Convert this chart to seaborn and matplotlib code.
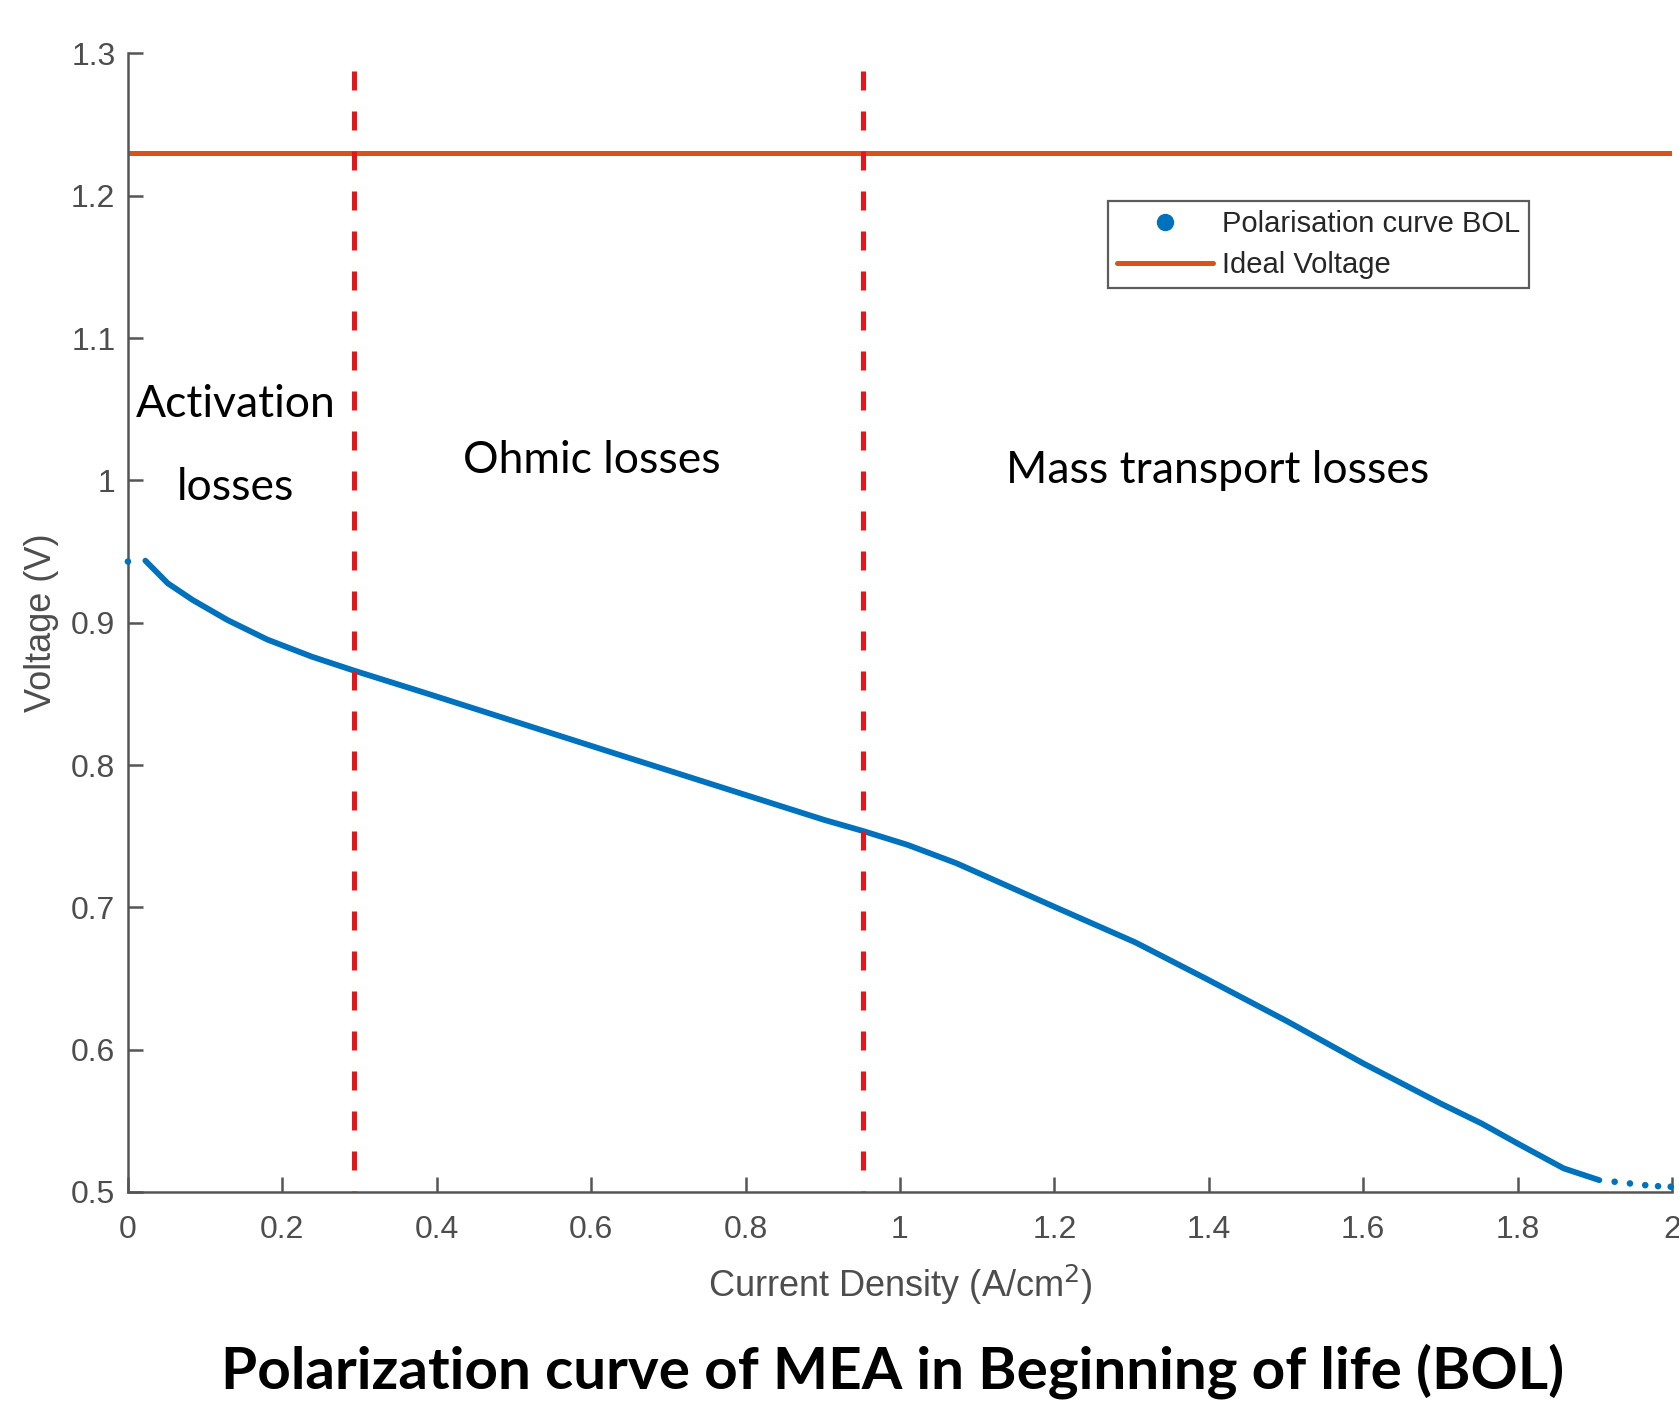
import numpy as np
import pandas as pd
import matplotlib
matplotlib.use("Agg")
import matplotlib.pyplot as plt
from matplotlib.lines import Line2D
from matplotlib.ticker import FuncFormatter
import seaborn as sns

# values
current_density = [0.0226, 0.0516, 0.0838, 0.1289, 0.1804, 0.2384, 0.2932, 0.3867,
                   0.5156, 0.6444, 0.7733, 0.9022, 0.9525, 1.0105, 1.0732, 1.2,
                   1.3045, 1.4, 1.5028, 1.6, 1.701, 1.7539, 1.8, 1.8597, 1.906]
voltage = [0.9436, 0.9277, 0.9160, 0.9019, 0.8882, 0.8761, 0.8663, 0.8504,
           0.8281, 0.8058, 0.7836, 0.7614, 0.7536, 0.7438, 0.7310, 0.7004,
           0.6755, 0.6489, 0.6196, 0.5904, 0.5620, 0.5480, 0.5341, 0.5166, 0.5083]
# sparse dots at both ends of the measured curve
dots_current = [0.0, 1.9258, 1.9456, 1.9654, 1.982, 1.9984]
dots_voltage = [0.943, 0.5072, 0.5060, 0.5048, 0.5041, 0.5037]

ideal_voltage = 1.23
region_bounds = [0.293, 0.952]
region_labels = ["Activation", "losses", "Ohmic losses", "Mass transport losses"]
region_label_pos = [(0.139, 1.053), (0.139, 0.995), (0.601, 1.014), (1.411, 1.007)]

x_ticks = [0, 0.2, 0.4, 0.6, 0.8, 1, 1.2, 1.4, 1.6, 1.8, 2]
y_ticks = [0.5, 0.6, 0.7, 0.8, 0.9, 1, 1.1, 1.2, 1.3]

blue = "#0072BD"
orange = "#D95319"
red = "#E8141B"
grey = "#4d4d4d"

curve = pd.DataFrame({"x": current_density, "v": voltage})
dots = pd.DataFrame({"x": dots_current, "v": dots_voltage})

sns.set_style("ticks")
plt.rcParams["font.family"] = ["Liberation Sans", "DejaVu Sans"]

fig = plt.figure(figsize=(16.79, 14.03), dpi=100)
ax = fig.add_axes([0.0762, 0.1504, 0.9196, 0.8115])

ax.axhline(ideal_voltage, color=orange, lw=3.6, zorder=2)
# drawn top-down so the dash pattern starts at the top like the reference
for xb in region_bounds:
    ax.axvline(xb, ymin=0.985, ymax=0.0, color=red, lw=3.6,
               ls=(0, (3.8, 4.2)), zorder=5)

sns.lineplot(data=curve, x="x", y="v", ax=ax, color=blue, lw=4.2,
             sort=False, estimator=None, zorder=4)
sns.scatterplot(data=dots, x="x", y="v", ax=ax, color=blue, s=22,
                edgecolor="none", zorder=4, clip_on=False)

ax.set_xlim(0, 2)
ax.set_ylim(0.5, 1.3)
ax.set_xticks(x_ticks)
ax.set_yticks(y_ticks)
fmt = FuncFormatter(lambda v, p: f"{v:g}")
ax.xaxis.set_major_formatter(fmt)
ax.yaxis.set_major_formatter(fmt)
ax.tick_params(direction="in", length=11, width=1.8, color="#555555",
               labelsize=23, labelcolor=grey)
ax.tick_params(axis="x", pad=16.5)
ax.tick_params(axis="y", pad=9)
for s in ["top", "right"]:
    ax.spines[s].set_visible(False)
for s in ["left", "bottom"]:
    ax.spines[s].set_color("#555555")
    ax.spines[s].set_linewidth(1.8)

ax.set_xlabel("Current Density (A/cm$^2$)", fontsize=26, color=grey, labelpad=13)
ax.set_ylabel("Voltage (V)", fontsize=26, color=grey, labelpad=9)

for txt, (tx, ty) in zip(region_labels, region_label_pos):
    ax.text(tx, ty, txt, fontsize=32, family="Lato", ha="center", va="center",
            color="black", zorder=6)

handles = [Line2D([], [], marker="o", ls="", color=blue, ms=11.5),
           Line2D([], [], color=orange, lw=3.6)]
leg = fig.legend(handles, ["Polarisation curve BOL", "Ideal Voltage"],
                 loc="upper left", bbox_to_anchor=(0.660, 0.8567),
                 fontsize=21, frameon=True, fancybox=False, handlelength=3.3,
                 handletextpad=0.3, borderpad=0.3, labelspacing=0.45,
                 borderaxespad=0)
leg.get_frame().set_edgecolor("#333333")
leg.get_frame().set_linewidth(1.6)
for t in leg.get_texts():
    t.set_color("#262626")

fig.text(893 / 1679, 1 - 1371 / 1403,
         "Polarization curve of MEA in Beginning of life (BOL)",
         fontsize=42, fontweight="bold", family="Lato", ha="center", va="center",
         color="black")

fig.savefig("out.png", dpi=100)
